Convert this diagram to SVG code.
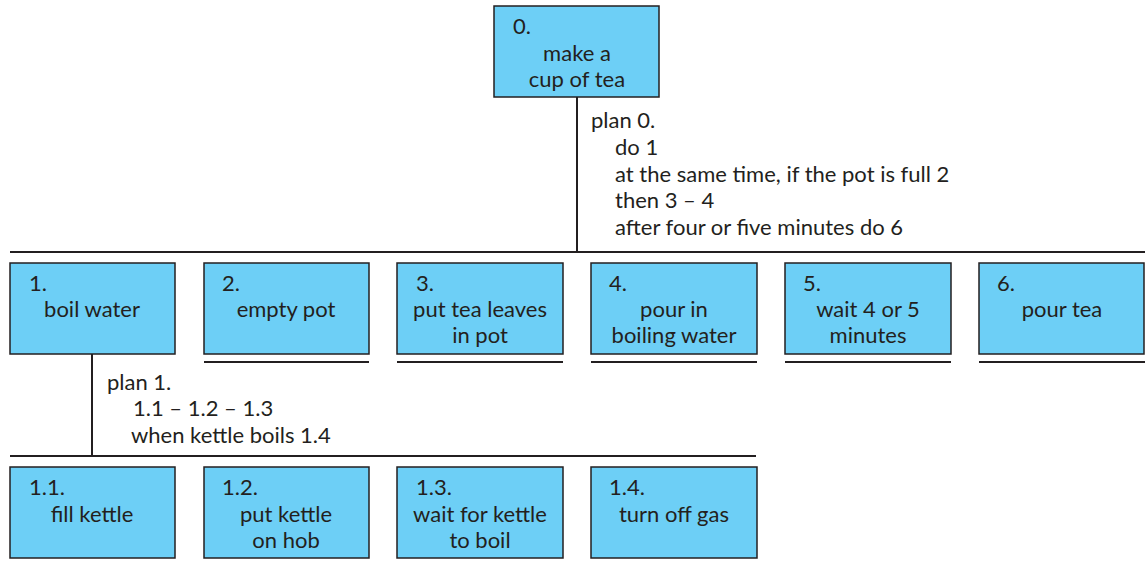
<svg xmlns="http://www.w3.org/2000/svg" width="1145" height="561" viewBox="0 0 1145 561">
<style>
.box{fill:#6dcff6;stroke:#231f20;stroke-width:1.5}
.ln{stroke:#231f20;stroke-width:2;fill:none}
.ul{stroke:#231f20;stroke-width:2}
text{font-family:Lato,"Open Sans","DejaVu Sans",sans-serif;font-size:22px;fill:#231f20}
.c{text-anchor:middle}
</style>
<rect width="1145" height="561" fill="#ffffff"/>
<g id="connectors">
<path class="ln" d="M577,97 V252 M10,252 H1145"/>
<path class="ln" d="M92,354 V456 M10,456 H756"/>
<path class="ul" d="M204,362 H369 M397,362 H563 M591,362 H757 M785,362 H951 M979,362 H1145"/>
</g>
<g id="plan0">
<text x="591" y="128">plan 0.</text>
<text x="615" y="155">do 1</text>
<text x="615" y="182">at the same time, if the pot is full 2</text>
<text x="615" y="208">then 3 – 4</text>
<text x="615" y="235">after four or five minutes do 6</text>
</g>
<g id="plan1">
<text x="107" y="390">plan 1.</text>
<text x="133" y="416">1.1 – 1.2 – 1.3</text>
<text x="131" y="443">when kettle boils 1.4</text>
</g>
<g id="n0">
<rect class="box" x="494" y="6" width="165" height="91"/>
<text x="513" y="34">0.</text>
<text class="c" x="577" y="61">make a</text>
<text class="c" x="577" y="87">cup of tea</text>
</g>
<g id="n1">
<rect class="box" x="10" y="263" width="165" height="91"/>
<text x="29" y="291">1.</text>
<text class="c" x="92" y="317">boil water</text>
</g>
<g id="n2">
<rect class="box" x="204" y="263" width="165" height="91"/>
<text x="222" y="291">2.</text>
<text class="c" x="286" y="317">empty pot</text>
</g>
<g id="n3">
<rect class="box" x="397" y="263" width="166" height="91"/>
<text x="416" y="291">3.</text>
<text class="c" x="480" y="317">put tea leaves</text>
<text class="c" x="480" y="343">in pot</text>
</g>
<g id="n4">
<rect class="box" x="591" y="263" width="166" height="91"/>
<text x="609" y="291">4.</text>
<text class="c" x="674" y="317">pour in</text>
<text class="c" x="674" y="343">boiling water</text>
</g>
<g id="n5">
<rect class="box" x="785" y="263" width="166" height="91"/>
<text x="803" y="291">5.</text>
<text class="c" x="868" y="317">wait 4 or 5</text>
<text class="c" x="868" y="343">minutes</text>
</g>
<g id="n6">
<rect class="box" x="979" y="263" width="165" height="91"/>
<text x="997" y="291">6.</text>
<text class="c" x="1062" y="317">pour tea</text>
</g>
<g id="n1_1">
<rect class="box" x="10" y="467" width="165" height="91"/>
<text x="29" y="495">1.1.</text>
<text class="c" x="92" y="522">fill kettle</text>
</g>
<g id="n1_2">
<rect class="box" x="204" y="467" width="165" height="91"/>
<text x="222" y="495">1.2.</text>
<text class="c" x="286" y="522">put kettle</text>
<text class="c" x="286" y="548">on hob</text>
</g>
<g id="n1_3">
<rect class="box" x="397" y="467" width="166" height="91"/>
<text x="416" y="495">1.3.</text>
<text class="c" x="480" y="522">wait for kettle</text>
<text class="c" x="480" y="548">to boil</text>
</g>
<g id="n1_4">
<rect class="box" x="591" y="467" width="166" height="91"/>
<text x="609" y="495">1.4.</text>
<text class="c" x="674" y="522">turn off gas</text>
</g>
</svg>
